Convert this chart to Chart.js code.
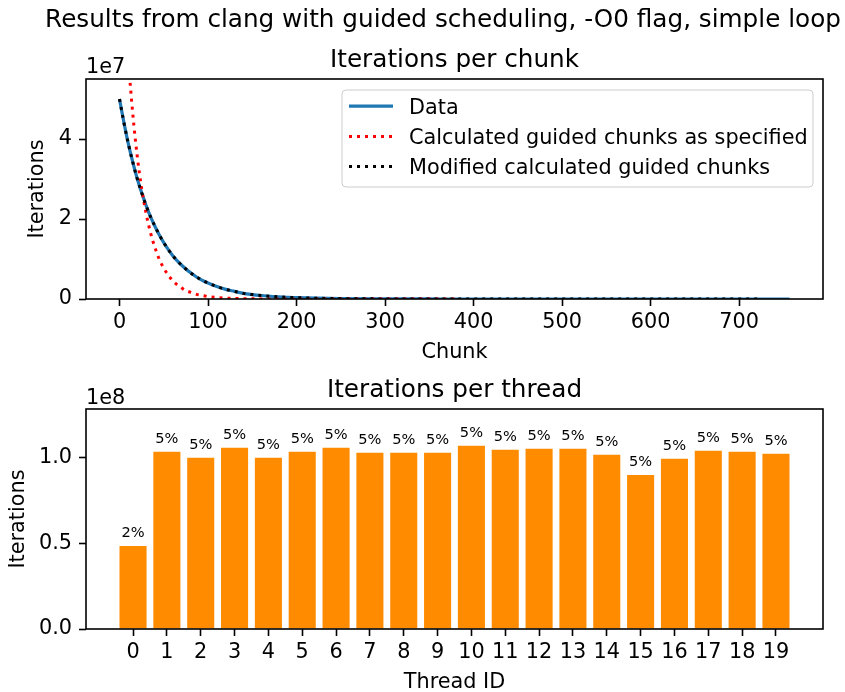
<!DOCTYPE html>
<html>
<head>
<meta charset="utf-8">
<script src="https://cdn.jsdelivr.net/npm/chart.js@4.4.0/dist/chart.umd.min.js"></script>
<style>
  html, body { margin: 0; padding: 0; background: #fff; }
  canvas { display: block; position: absolute; left: 0; }
  #chunkChart { top: 0; }
  #threadChart { top: 370px; }
</style>
</head>
<body>
<canvas id="chunkChart" width="845" height="370"></canvas>
<canvas id="threadChart" width="845" height="322"></canvas>
<script>
/* Werte */

// Oberer Plot: Iterationen pro Chunk
const chunkIdx = [0, 5, 10, 15, 20, 25, 30, 35, 40, 45, 50, 55, 60, 65, 70, 75, 80, 85, 90, 95, 100,
                  110, 120, 130, 140, 150, 160, 170, 180, 190, 200, 250, 300, 350, 380, 400,
                  450, 500, 550, 600, 650, 700, 721, 757];
const dataChunks = [5.00e7, 4.41e7, 3.88e7, 3.42e7, 3.01e7, 2.66e7, 2.34e7, 2.06e7, 1.82e7, 1.60e7, 1.41e7,
                    1.24e7, 1.09e7, 0.96e7, 0.85e7, 0.75e7, 0.66e7, 0.58e7, 0.51e7, 0.45e7, 0.40e7,
                    0.31e7, 0.24e7, 0.19e7, 0.14e7, 0.11e7, 0.087e7, 0.068e7, 0.052e7, 0.041e7, 0.032e7,
                    0.009e7, 0.0025e7, 0.0007e7, 0.0003e7, 0.0002e7, 0, 0, 0, 0, 0, 0, 0, 0];
const specChunks = [10.0e7, 7.74e7, 5.99e7, 4.63e7, 3.58e7, 2.77e7, 2.15e7, 1.66e7, 1.29e7, 0.99e7, 0.77e7,
                    0.60e7, 0.46e7, 0.36e7, 0.28e7, 0.21e7, 0.17e7, 0.13e7, 0.10e7, 0.08e7, 0.06e7,
                    0.036e7, 0.021e7, 0.013e7, 0.008e7, 0.005e7, 0.003e7, 0.002e7, 0.001e7, 0.001e7, 0,
                    0, 0, 0, 0, null, null, null, null, null, null, null, null, null];
const modChunks = [5.00e7, 4.41e7, 3.88e7, 3.42e7, 3.01e7, 2.66e7, 2.34e7, 2.06e7, 1.82e7, 1.60e7, 1.41e7,
                   1.24e7, 1.09e7, 0.96e7, 0.85e7, 0.75e7, 0.66e7, 0.58e7, 0.51e7, 0.45e7, 0.40e7,
                   0.31e7, 0.24e7, 0.19e7, 0.14e7, 0.11e7, 0.087e7, 0.068e7, 0.052e7, 0.041e7, 0.032e7,
                   0.009e7, 0.0025e7, 0.0007e7, 0.0003e7, 0.0002e7, 0, 0, 0, 0, 0, 0, 0, null];
const chunkTicks = [0, 100, 200, 300, 400, 500, 600, 700];
const chunkYTicks = [0, 2e7, 4e7];

// Unterer Plot: Iterationen pro Thread
const threadIds = [0, 1, 2, 3, 4, 5, 6, 7, 8, 9, 10, 11, 12, 13, 14, 15, 16, 17, 18, 19];
const threadIters = [0.485e8, 1.035e8, 1.000e8, 1.058e8, 1.000e8, 1.035e8, 1.058e8, 1.029e8, 1.029e8, 1.029e8,
                     1.070e8, 1.047e8, 1.053e8, 1.053e8, 1.018e8, 0.900e8, 0.994e8, 1.041e8, 1.035e8, 1.023e8];
const threadPct = ["2%", "5%", "5%", "5%", "5%", "5%", "5%", "5%", "5%", "5%",
                   "5%", "5%", "5%", "5%", "5%", "5%", "5%", "5%", "5%", "5%"];
const threadYTicks = [0, 0.5e8, 1.0e8];

const FONT = "'DejaVu Sans', sans-serif";
const FS = 20.8;      // 10pt
const FS_TITLE = 24.7; // 12pt
Chart.defaults.font.family = FONT;
Chart.defaults.color = "#000";

function pairs(xs, ys) {
  const out = [];
  xs.forEach((x, i) => { if (ys[i] !== null) out.push({ x: x, y: ys[i] }); });
  return out;
}

// Texte (Titel, Achsenbeschriftungen, Offset) frei platzieren
function textPlugin(items) {
  return {
    id: "figText",
    afterDraw(chart) {
      const ctx = chart.ctx;
      ctx.save();
      ctx.fillStyle = "#000";
      items.forEach((t) => {
        ctx.save();
        ctx.font = `${t.size}px ${FONT}`;
        ctx.translate(t.x, t.y);
        if (t.rot) ctx.rotate(t.rot);
        ctx.textAlign = t.align || "center";
        ctx.textBaseline = t.baseline || "alphabetic";
        ctx.fillText(t.text, 0, 0);
        ctx.restore();
      });
      ctx.restore();
    },
  };
}

// Rahmen um die Plotfläche (wie matplotlib-Spines)
const framePlugin = {
  id: "frame",
  afterDraw(chart) {
    const a = chart.chartArea;
    const ctx = chart.ctx;
    ctx.save();
    ctx.strokeStyle = "#000";
    ctx.lineWidth = 1.6;
    ctx.strokeRect(a.left, a.top, a.right - a.left, a.bottom - a.top);
    ctx.restore();
  },
};

// Legende im Stil von matplotlib, oben rechts
const legendPlugin = {
  id: "mplLegend",
  afterDraw(chart) {
    const ctx = chart.ctx;
    const bx = 342, by = 90, bw = 471, bh = 97;
    ctx.save();
    ctx.beginPath();
    ctx.roundRect(bx, by, bw, bh, 4);
    ctx.fillStyle = "rgba(255,255,255,0.8)";
    ctx.fill();
    ctx.strokeStyle = "#cccccc";
    ctx.lineWidth = 1;
    ctx.stroke();
    chart.data.datasets.forEach((ds, i) => {
      const base = 113.7 + i * 30.2;
      const ly = base - 7.5;
      ctx.beginPath();
      ctx.setLineDash(ds.borderDash || []);
      ctx.strokeStyle = ds.borderColor;
      ctx.lineWidth = ds.borderWidth;
      ctx.moveTo(349, ly);
      ctx.lineTo(393, ly);
      ctx.stroke();
      ctx.setLineDash([]);
      ctx.fillStyle = "#000";
      ctx.font = `${FS}px ${FONT}`;
      ctx.textAlign = "left";
      ctx.textBaseline = "alphabetic";
      ctx.fillText(ds.label, 409, base);
    });
    ctx.restore();
  },
};

// Prozent-Beschriftung über den Balken
const barLabelPlugin = {
  id: "barLabels",
  afterDatasetsDraw(chart) {
    const ctx = chart.ctx;
    const meta = chart.getDatasetMeta(0);
    ctx.save();
    ctx.fillStyle = "#000";
    ctx.font = `14.6px ${FONT}`;
    ctx.textAlign = "center";
    ctx.textBaseline = "alphabetic";
    meta.data.forEach((bar, i) => {
      ctx.fillText(threadPct[i], bar.x, bar.y - 8.7);
    });
    ctx.restore();
  },
};

function axisGrid() {
  return {
    display: true,
    drawOnChartArea: false,
    drawTicks: true,
    tickLength: 7,
    tickColor: "#000",
    tickWidth: 1.6,
  };
}

/* -------- Oberer Plot -------- */
// order: kleinere Zahl wird zuletzt (also oben) gezeichnet
new Chart(document.getElementById("chunkChart"), {
  type: "line",
  data: {
    datasets: [
      {
        label: "Data",
        data: pairs(chunkIdx, dataChunks),
        borderColor: "#1f77b4",
        borderWidth: 3.2,
        pointRadius: 0,
        cubicInterpolationMode: "monotone",
        order: 3,
      },
      {
        label: "Calculated guided chunks as specified",
        data: pairs(chunkIdx, specChunks),
        borderColor: "#ff0000",
        borderWidth: 3,
        borderDash: [3, 5],
        pointRadius: 0,
        cubicInterpolationMode: "monotone",
        order: 2,
      },
      {
        label: "Modified calculated guided chunks",
        data: pairs(chunkIdx, modChunks),
        borderColor: "#000000",
        borderWidth: 3,
        borderDash: [3, 5],
        pointRadius: 0,
        cubicInterpolationMode: "monotone",
        order: 1,
      },
    ],
  },
  options: {
    responsive: false,
    animation: false,
    devicePixelRatio: 1,
    layout: { padding: { top: 79, right: 22, left: 0, bottom: 0 } },
    plugins: { legend: { display: false }, tooltip: { enabled: false } },
    scales: {
      x: {
        type: "linear",
        min: -37.85,
        max: 794.85,
        afterBuildTicks: (s) => { s.ticks = chunkTicks.map((v) => ({ value: v })); },
        afterFit: (s) => { s.height = 71; },
        grid: axisGrid(),
        border: { display: false },
        ticks: { font: { size: FS }, padding: 4, maxRotation: 0, autoSkip: false, callback: (v) => String(v) },
      },
      y: {
        type: "linear",
        min: 0,
        max: 5.5e7,
        afterBuildTicks: (s) => { s.ticks = chunkYTicks.map((v) => ({ value: v })); },
        afterFit: (s) => { s.width = 86; },
        grid: axisGrid(),
        border: { display: false },
        ticks: { font: { size: FS }, padding: 7, callback: (v) => String(Math.round(v / 1e7)) },
      },
    },
  },
  plugins: [
    framePlugin,
    legendPlugin,
    textPlugin([
      { text: "Results from clang with guided scheduling, -O0 flag, simple loop", x: 443, y: 27.3, size: FS_TITLE },
      { text: "Iterations per chunk", x: 454.5, y: 66.7, size: FS_TITLE },
      { text: "1e7", x: 86, y: 73.3, size: FS, align: "left" },
      { text: "Chunk", x: 454.5, y: 358, size: FS },
      { text: "Iterations", x: 38, y: 189, size: FS, rot: -Math.PI / 2, baseline: "middle" },
    ]),
  ],
});

/* -------- Unterer Plot -------- */
new Chart(document.getElementById("threadChart"), {
  type: "bar",
  data: {
    datasets: [{
      label: "Iterations",
      data: threadIds.map((t, i) => ({ x: t, y: threadIters[i] })),
      backgroundColor: "#ff8c00",
      borderWidth: 0,
      categoryPercentage: 1.0,
      barPercentage: 0.8,
    }],
  },
  options: {
    responsive: false,
    animation: false,
    devicePixelRatio: 1,
    layout: { padding: { top: 39, right: 22, left: 0, bottom: 0 } },
    plugins: { legend: { display: false }, tooltip: { enabled: false } },
    scales: {
      x: {
        type: "linear",
        offset: false,
        min: -1.39,
        max: 20.39,
        afterBuildTicks: (s) => { s.ticks = threadIds.map((v) => ({ value: v })); },
        afterFit: (s) => { s.height = 63; },
        grid: Object.assign(axisGrid(), { offset: false }),
        border: { display: false },
        ticks: { font: { size: FS }, padding: 4, maxRotation: 0, autoSkip: false, callback: (v) => String(v) },
      },
      y: {
        type: "linear",
        min: 0,
        max: 1.285e8,
        afterBuildTicks: (s) => { s.ticks = threadYTicks.map((v) => ({ value: v })); },
        afterFit: (s) => { s.width = 86; },
        grid: axisGrid(),
        border: { display: false },
        ticks: { font: { size: FS }, padding: 7, callback: (v) => (v / 1e8).toFixed(1) },
      },
    },
  },
  plugins: [
    barLabelPlugin,
    framePlugin,
    textPlugin([
      { text: "Iterations per thread", x: 454.5, y: 26.7, size: FS_TITLE },
      { text: "1e8", x: 86, y: 34, size: FS, align: "left" },
      { text: "Thread ID", x: 454.5, y: 318, size: FS },
      { text: "Iterations", x: 19, y: 149, size: FS, rot: -Math.PI / 2, baseline: "middle" },
    ]),
  ],
});
</script>
</body>
</html>
